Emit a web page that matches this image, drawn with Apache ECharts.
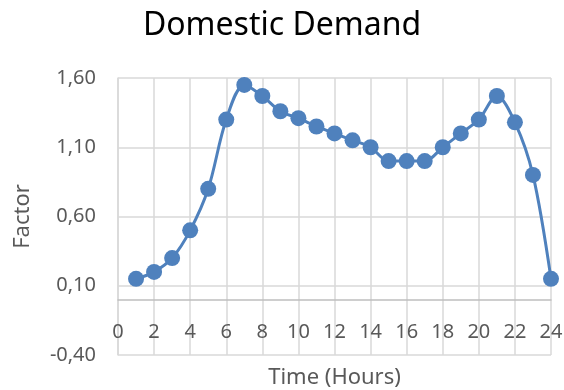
<!DOCTYPE html>
<html>
<head>
<meta charset="utf-8">
<script src="https://cdn.jsdelivr.net/npm/echarts@6/dist/echarts.min.js"></script>
<style>
  html, body { margin: 0; padding: 0; background: #fff; }
  #chart { width: 564px; height: 390px; }
</style>
</head>
<body>
<div id="chart"></div>
<script>
// hours 1..24 and the demand factor
const hours = [1, 2, 3, 4, 5, 6, 7, 8, 9, 10, 11, 12, 13, 14, 15, 16, 17, 18, 19, 20, 21, 22, 23, 24]
const factor = [0.15, 0.2, 0.3, 0.5, 0.8, 1.3, 1.55, 1.47, 1.36, 1.31, 1.25, 1.2, 1.15, 1.1,
  1.0, 1.0, 1.0, 1.1, 1.2, 1.3, 1.47, 1.28, 0.9, 0.15]

const font = 'Noto Sans'
const chart = echarts.init(document.getElementById('chart'))

const option = {
  animation: false,
  title: {
    text: 'Domestic Demand',
    left: 'center',
    top: 5,
    textStyle: { fontFamily: font, fontSize: 32, fontWeight: 'normal', color: '#000' }
  },
  grid: { left: 118, right: 13, top: 78, bottom: 35, outerBoundsMode: 'none', containLabel: false },
  xAxis: {
    type: 'value',
    min: 0,
    max: 24,
    interval: 2,
    position: 'bottom',
    offset: -55, // axis sits on the zero line, like the original
    name: 'Time (Hours)',
    nameLocation: 'middle',
    nameGap: 67,
    nameTextStyle: { fontFamily: font, fontSize: 22, color: '#595959' },
    axisLine: { onZero: false, lineStyle: { color: '#bfbfbf', width: 1.5 } },
    axisTick: { show: false },
    axisLabel: { fontFamily: font, fontSize: 20, color: '#595959', margin: 22 },
    splitLine: { show: true, lineStyle: { color: '#d9d9d9', width: 1.5 } }
  },
  yAxis: {
    type: 'value',
    min: -0.4,
    max: 1.6,
    interval: 0.5,
    name: 'Factor',
    nameLocation: 'middle',
    nameGap: 84,
    nameTextStyle: { fontFamily: font, fontSize: 22, color: '#595959' },
    axisLine: { show: true, lineStyle: { color: '#d9d9d9', width: 1.5 } },
    axisTick: { show: false },
    axisLabel: {
      fontFamily: font, fontSize: 20, color: '#595959', margin: 22,
      formatter: v => v.toFixed(2).replace('.', ',')
    },
    splitLine: { show: true, lineStyle: { color: '#d9d9d9', width: 1.5 } }
  },
  series: [
    {
      type: 'line',
      data: hours.map((h, i) => [h, factor[i]]),
      smooth: 0.33,
      symbol: 'circle',
      symbolSize: 16,
      lineStyle: { color: '#4f81bd', width: 3 },
      itemStyle: { color: '#4f81bd' }
    }
  ]
}
chart.setOption(option)
</script>
</body>
</html>
